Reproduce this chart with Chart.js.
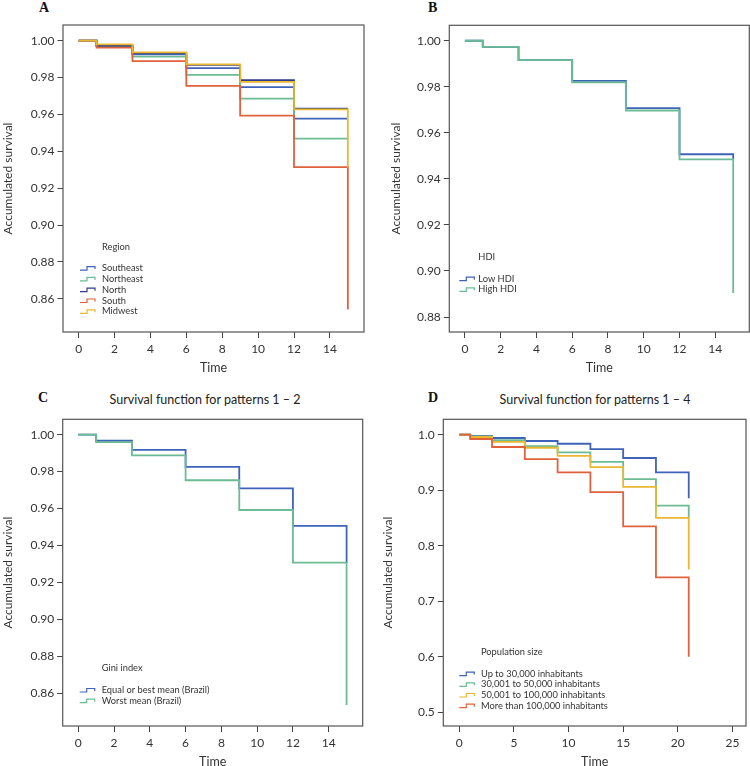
<!DOCTYPE html>
<html><head><meta charset="utf-8">
<script src="https://cdn.jsdelivr.net/npm/chart.js@4.4.0/dist/chart.umd.min.js"></script>
<style>
body{margin:0;background:#fff;width:750px;height:766px;position:relative;overflow:hidden;font-family:Lato,sans-serif;}
.pc{position:absolute;}
.lab{position:absolute;font-family:"Liberation Serif",serif;font-weight:bold;font-size:14px;line-height:14px;color:#111;}
.ttl{position:absolute;font-family:Lato,sans-serif;font-size:12.5px;line-height:14px;color:#222;transform:translateX(-50%);white-space:nowrap;}
</style></head><body>
<div class="lab" style="left:39px;top:1px">A</div>
<div class="lab" style="left:428px;top:1px">B</div>
<div class="lab" style="left:38px;top:391px">C</div>
<div class="lab" style="left:428px;top:391px">D</div>
<div class="ttl" style="left:205px;top:393px">Survival function for patterns 1 – 2</div>
<div class="ttl" style="left:595px;top:393px">Survival function for patterns 1 – 4</div>
<div class="pc" style="left:0;top:0"><canvas id="cA" width="375" height="383"></canvas></div>
<div class="pc" style="left:375px;top:0"><canvas id="cB" width="375" height="383"></canvas></div>
<div class="pc" style="left:0;top:383px"><canvas id="cC" width="375" height="394"></canvas></div>
<div class="pc" style="left:375px;top:383px"><canvas id="cD" width="375" height="394"></canvas></div>
<script>
// ---------- DATA ----------
// Panel A: Region
const timesA = [0, 1, 3, 6, 9, 12, 15];
const southeast = [1.0, 0.9975, 0.9926, 0.9851, 0.9748, 0.9577, 0.9577];
const northeast = [1.0, 0.9970, 0.9914, 0.9815, 0.9686, 0.9469, 0.9469];
const north     = [1.0, 0.9972, 0.9933, 0.9869, 0.9786, 0.9632, 0.9632];
const south     = [1.0, 0.9962, 0.9889, 0.9755, 0.9593, 0.9314, 0.8542];
const midwest   = [1.0, 0.9980, 0.9937, 0.9871, 0.9777, 0.9627, 0.9314];
const xTicksA = [0, 2, 4, 6, 8, 10, 12, 14];
const yTicksA = [0.86, 0.88, 0.90, 0.92, 0.94, 0.96, 0.98, 1.00];

// Panel B: HDI
const timesB = [0, 1, 3, 6, 9, 12, 15];
const lowHDI  = [1.0, 0.9973, 0.9916, 0.9826, 0.9707, 0.9507, 0.9485];
const highHDI = [1.0, 0.9973, 0.9916, 0.9819, 0.9697, 0.9485, 0.8904];
const xTicksB = [0, 2, 4, 6, 8, 10, 12, 14];
const yTicksB = [0.88, 0.90, 0.92, 0.94, 0.96, 0.98, 1.00];

// Panel C: Gini index
const timesC = [0, 1, 3, 6, 9, 12, 15];
const giniEqual = [1.0, 0.9967, 0.9917, 0.9825, 0.9709, 0.9506, 0.9307];
const giniWorst = [1.0, 0.9959, 0.9888, 0.9753, 0.9592, 0.9307, 0.8537];
const xTicksC = [0, 2, 4, 6, 8, 10, 12, 14];
const yTicksC = [0.86, 0.88, 0.90, 0.92, 0.94, 0.96, 0.98, 1.00];

// Panel D: Population size
const timesD = [0, 1, 3, 6, 9, 12, 15, 18, 21];
const popUpTo30k   = [1.0, 0.9980, 0.9940, 0.9886, 0.9837, 0.9740, 0.9580, 0.9320, 0.8855];
const pop30to50k   = [1.0, 0.9970, 0.9900, 0.9795, 0.9680, 0.9510, 0.9200, 0.8723, 0.8500];
const pop50to100k  = [1.0, 0.9958, 0.9870, 0.9765, 0.9620, 0.9416, 0.9060, 0.8500, 0.7570];
const popOver100k  = [1.0, 0.9922, 0.9778, 0.9560, 0.9320, 0.8967, 0.8348, 0.7431, 0.6000];
const xTicksD = [0, 5, 10, 15, 20, 25];
const yTicksD = [0.5, 0.6, 0.7, 0.8, 0.9, 1.0];

// ---------- STYLE ----------
const C_BLUE = '#3f63b8', C_GREEN = '#6bbb95', C_NAVY = '#2f3d8c', C_RED = '#e0623c', C_YEL = '#e9b830';
const FONT = 'Lato, "Open Sans", sans-serif';
const TXT = '#333';

const boxLegend = {
  id: 'boxLegend',
  afterDatasetsDraw(chart, args, opts) {
    const {ctx, chartArea: a} = chart;
    ctx.save();
    ctx.strokeStyle = '#555'; ctx.lineWidth = 1.2;
    ctx.strokeRect(a.left, a.top, a.right - a.left, a.bottom - a.top);
    // legend
    const ds = chart.data.datasets;
    const n = ds.length;
    const sx = a.left + opts.symX, tx = a.left + opts.textX;
    const lastY = a.bottom - opts.lastOff;
    const firstY = lastY - (n - 1) * opts.gap;
    ctx.font = '9.3px ' + FONT;
    ctx.fillStyle = TXT;
    ctx.textBaseline = 'middle';
    ctx.textAlign = 'left';
    ctx.fillText(opts.title, tx, firstY - opts.titleGap);
    ds.forEach((d, i) => {
      const y = firstY + i * opts.gap;
      ctx.strokeStyle = d.borderColor; ctx.lineWidth = 1.2;
      ctx.beginPath();
      ctx.moveTo(sx, y + 2); ctx.lineTo(sx + 7, y + 2); ctx.lineTo(sx + 7, y - 1.5);
      ctx.lineTo(sx + 15, y - 1.5); ctx.lineTo(sx + 15, y + 1);
      ctx.stroke();
      ctx.fillStyle = TXT;
      ctx.fillText(d.label, tx, y);
    });
    ctx.restore();
  }
};

function makeChart(id, p) {
  const n = p.series.length;
  const datasets = p.series.map((s, i) => ({
    label: s.label,
    data: p.times.map((t, k) => ({x: t, y: s.values[k]})),
    borderColor: s.color,
    borderWidth: 1.8,
    pointRadius: 0,
    stepped: 'before',
    fill: false,
    order: n - 1 - i
  }));
  return new Chart(document.getElementById(id), {
    type: 'line',
    data: {datasets},
    plugins: [boxLegend],
    options: {
      responsive: false,
      animation: false,
      events: [],
      layout: {padding: p.padding},
      plugins: {
        legend: {display: false},
        tooltip: {enabled: false},
        boxLegend: p.legend
      },
      scales: {
        x: {
          type: 'linear', min: p.xMin, max: p.xMax,
          afterBuildTicks: s => { s.ticks = p.xTicks.map(v => ({value: v})); },
          afterFit: s => { s.height = 51; },
          grid: {display: true, drawOnChartArea: false, drawTicks: true, tickLength: 6, tickColor: '#444', tickWidth: 1},
          border: {display: false},
          ticks: {color: TXT, font: {family: FONT, size: 12}, padding: 4, maxRotation: 0, autoSkip: false,
                  callback: v => String(v)},
          title: {display: true, text: 'Time', color: TXT, font: {family: FONT, size: 12.5}, padding: {top: 0, bottom: 8}}
        },
        y: {
          type: 'linear', min: p.yMin, max: p.yMax,
          afterBuildTicks: s => { s.ticks = p.yTicks.map(v => ({value: v})); },
          afterFit: s => { s.width = p.yWidth; },
          grid: {display: true, drawOnChartArea: false, drawTicks: true, tickLength: 5.5, tickColor: '#444', tickWidth: 1},
          border: {display: false},
          ticks: {color: TXT, font: {family: FONT, size: 12}, padding: 3, autoSkip: false,
                  callback: v => Number(v).toFixed(p.yDec)},
          title: {display: true, text: 'Accumulated survival', color: TXT, font: {family: FONT, size: 12}, padding: {top: 1, bottom: 0}}
        }
      }
    }
  });
}

makeChart('cA', {
  times: timesA,
  series: [
    {label: 'Southeast', values: southeast, color: C_BLUE},
    {label: 'Northeast', values: northeast, color: C_GREEN},
    {label: 'North', values: north, color: C_NAVY},
    {label: 'South', values: south, color: C_RED},
    {label: 'Midwest', values: midwest, color: C_YEL}
  ],
  xMin: -0.87, xMax: 15.9, yMin: 0.842, yMax: 1.0085,
  xTicks: xTicksA, yTicks: yTicksA, yDec: 2, yWidth: 63,
  padding: {left: 0, right: 11, top: 25, bottom: 0},
  legend: {title: 'Region', symX: 17, textX: 39, lastOff: 20.7, gap: 10.8, titleGap: 21.3}
});

makeChart('cB', {
  times: timesB,
  series: [
    {label: 'Low HDI', values: lowHDI, color: C_BLUE},
    {label: 'High HDI', values: highHDI, color: C_GREEN}
  ],
  xMin: -0.87, xMax: 15.9, yMin: 0.8735, yMax: 1.0067,
  xTicks: xTicksB, yTicks: yTicksB, yDec: 2, yWidth: 61.3,
  padding: {left: 13, right: 0.7, top: 25.3, bottom: 0},
  legend: {title: 'HDI', symX: 10, textX: 29, lastOff: 42.6, gap: 10.7, titleGap: 21.7}
});

makeChart('cC', {
  times: timesC,
  series: [
    {label: 'Equal or best mean (Brazil)', values: giniEqual, color: C_BLUE},
    {label: 'Worst mean (Brazil)', values: giniWorst, color: C_GREEN}
  ],
  xMin: -0.87, xMax: 15.9, yMin: 0.8423, yMax: 1.0083,
  xTicks: xTicksC, yTicks: yTicksC, yDec: 2, yWidth: 62.7,
  padding: {left: 0, right: 12.3, top: 36.3, bottom: 0},
  legend: {title: 'Gini index', symX: 17, textX: 39, lastOff: 25.3, gap: 10.7, titleGap: 21.7}
});

makeChart('cD', {
  times: timesD,
  series: [
    {label: 'Up to 30,000 inhabitants', values: popUpTo30k, color: C_BLUE},
    {label: '30,001 to 50,000 inhabitants', values: pop30to50k, color: C_GREEN},
    {label: '50,001 to 100,000 inhabitants', values: pop50to100k, color: C_YEL},
    {label: 'More than 100,000 inhabitants', values: popOver100k, color: C_RED}
  ],
  xMin: -1.46, xMax: 26.24, yMin: 0.4753, yMax: 1.0277,
  xTicks: xTicksD, yTicks: yTicksD, yDec: 1, yWidth: 63.3,
  padding: {left: 5, right: 4, top: 36.3, bottom: 0},
  legend: {title: 'Population size', symX: 16, textX: 37.7, lastOff: 20.3, gap: 10.7, titleGap: 22}
});
</script>
</body></html>
